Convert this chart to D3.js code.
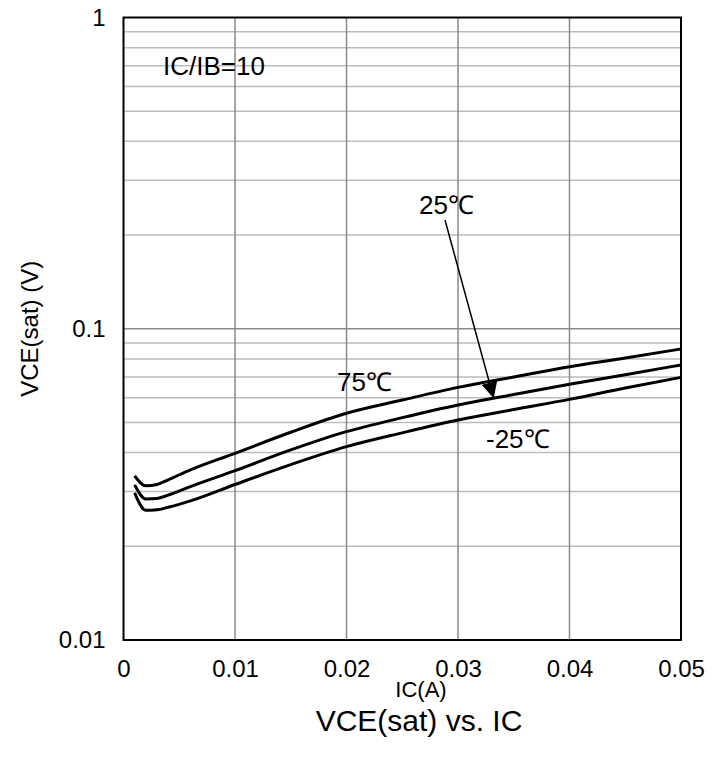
<!DOCTYPE html>
<html>
<head>
<meta charset="utf-8">
<script src="https://cdn.jsdelivr.net/npm/d3@7"></script>
<style>
  body { margin: 0; background: #fff; }
  text { font-family: "Liberation Sans", Arial, sans-serif; fill: #000; }
</style>
</head>
<body>
<div id="chart"></div>
<script>
var w = 726, h = 764;
var margin = { left: 123.5, right: 45, top: 17.5, bottom: 124 };

// IC (A)
var ic = [0.001, 0.002, 0.003, 0.004, 0.006, 0.01, 0.015, 0.02, 0.025, 0.03, 0.035, 0.04, 0.045, 0.05];
// VCE(sat) (V)
var vce75 = [0.0337, 0.0313, 0.0316, 0.0327, 0.0352, 0.0398, 0.0465, 0.0535, 0.059, 0.0648, 0.070, 0.0755, 0.0805, 0.0861];
var vce25 = [0.0315, 0.0284, 0.0285, 0.0292, 0.0311, 0.0350, 0.0408, 0.0467, 0.0518, 0.0569, 0.0615, 0.0663, 0.0712, 0.0765];
var vceM25 = [0.0297, 0.0261, 0.0262, 0.0267, 0.0280, 0.0316, 0.0366, 0.0418, 0.0463, 0.0509, 0.0550, 0.0593, 0.0645, 0.0698];

var xTicks = [0, 0.01, 0.02, 0.03, 0.04, 0.05];
var xTickLabels = ["0", "0.01", "0.02", "0.03", "0.04", "0.05"];
var yTicks = [0.01, 0.1, 1];
var yTickLabels = ["0.01", "0.1", "1"];
var yMinor = [2, 3, 4, 5, 6, 7, 8, 9].flatMap(function (m) { return [m * 0.01, m * 0.1]; });

var svg = d3.select("#chart").append("svg")
  .attr("width", w)
  .attr("height", h);

var x = d3.scaleLinear().domain([0, 0.05]).range([margin.left, w - margin.right]);
var y = d3.scaleLog().domain([0.01, 1]).range([h - margin.bottom, margin.top]);

// grid
svg.append("g").selectAll("line.minor")
  .data(yMinor).enter().append("line")
  .attr("x1", x(0)).attr("x2", x(0.05))
  .attr("y1", function (d) { return y(d); }).attr("y2", function (d) { return y(d); })
  .attr("stroke", "#bdbdbd").attr("stroke-width", 1.5);

svg.append("g").selectAll("line.vgrid")
  .data(xTicks.slice(1, -1)).enter().append("line")
  .attr("x1", function (d) { return x(d); }).attr("x2", function (d) { return x(d); })
  .attr("y1", y(0.01)).attr("y2", y(1))
  .attr("stroke", "#8a8a8a").attr("stroke-width", 1.5);

svg.append("line")
  .attr("x1", x(0)).attr("x2", x(0.05))
  .attr("y1", y(0.1)).attr("y2", y(0.1))
  .attr("stroke", "#8a8a8a").attr("stroke-width", 1.5);

// frame
svg.append("rect")
  .attr("x", x(0)).attr("y", y(1))
  .attr("width", x(0.05) - x(0)).attr("height", y(0.01) - y(1))
  .attr("fill", "none").attr("stroke", "#000").attr("stroke-width", 2);

// axes
var xAxis = d3.axisBottom(x).tickValues(xTicks)
  .tickFormat(function (d, i) { return xTickLabels[i]; })
  .tickSize(0).tickPadding(20);
var gx = svg.append("g").attr("transform", `translate(0,${y(0.01)})`).call(xAxis);
gx.select(".domain").remove();
gx.selectAll("text").style("font-size", "24px").style("font-family", "Liberation Sans, Arial, sans-serif");

var yAxis = d3.axisLeft(y).tickValues(yTicks)
  .tickFormat(function (d, i) { return yTickLabels[i]; })
  .tickSize(0).tickPadding(18);
var gy = svg.append("g").attr("transform", `translate(${x(0)},0)`).call(yAxis);
gy.select(".domain").remove();
gy.selectAll("text").style("font-size", "24px").style("font-family", "Liberation Sans, Arial, sans-serif");

// curves
var line = d3.line()
  .x(function (d) { return x(d[0]); })
  .y(function (d) { return y(d[1]); })
  .curve(d3.curveMonotoneX);

[vce75, vce25, vceM25].forEach(function (s) {
  svg.append("path")
    .datum(ic.map(function (v, i) { return [v, s[i]]; }))
    .attr("d", line)
    .attr("fill", "none")
    .attr("stroke", "#000")
    .attr("stroke-width", 3);
});

// annotations
svg.append("defs").append("marker")
  .attr("id", "arrow")
  .attr("viewBox", "0 0 10 10")
  .attr("refX", 10).attr("refY", 5)
  .attr("markerWidth", 16).attr("markerHeight", 16)
  .attr("markerUnits", "userSpaceOnUse")
  .attr("orient", "auto")
  .append("path").attr("d", "M0,0L10,5L0,10Z").attr("fill", "#000");

svg.append("line")
  .attr("x1", 445).attr("y1", 220)
  .attr("x2", x(0.0332)).attr("y2", y(0.0598))
  .attr("stroke", "#000").attr("stroke-width", 1.5)
  .attr("marker-end", "url(#arrow)");

svg.append("text").attr("x", 163).attr("y", 75).style("font-size", "26px").text("IC/IB=10");
svg.append("text").attr("x", 419).attr("y", 214).style("font-size", "26px").text("25℃");
svg.append("text").attr("x", 337).attr("y", 391).style("font-size", "26px").text("75℃");
svg.append("text").attr("x", 486).attr("y", 448).style("font-size", "26px").text("-25℃");

svg.append("text")
  .attr("transform", `translate(38,${y(0.1)}) rotate(-90)`)
  .attr("text-anchor", "middle")
  .style("font-size", "24px")
  .text("VCE(sat) (V)");

svg.append("text")
  .attr("x", 421).attr("y", 697)
  .attr("text-anchor", "middle")
  .style("font-size", "22px")
  .text("IC(A)");

svg.append("text")
  .attr("x", 419).attr("y", 731)
  .attr("text-anchor", "middle")
  .style("font-size", "30px")
  .text("VCE(sat) vs. IC");
</script>
</body>
</html>
